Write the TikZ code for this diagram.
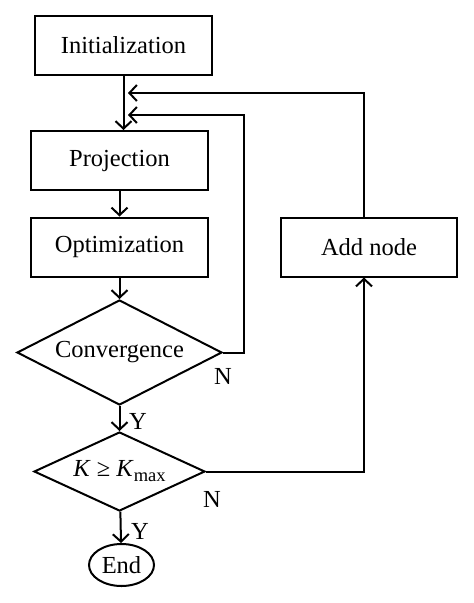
\documentclass[tikz,border=0pt]{standalone}
\usepackage{fontspec}
\setmainfont{Liberation Serif}
\usetikzlibrary{arrows.meta,shapes.geometric}
\begin{document}
\begin{tikzpicture}[x=1pt,y=-1pt,
  every node/.style={font=\fontsize{24.5}{28}\selectfont},
  box/.style={draw,line width=2pt,minimum width=177pt,minimum height=59pt,inner sep=0pt},
  dec/.style={draw,diamond,aspect=2,line width=2pt,inner sep=0pt},
  term/.style={draw,ellipse,line width=2pt,minimum width=65pt,minimum height=42pt,inner sep=0pt},
  conn/.style={line width=2pt,-{Straight Barb[length=7.5pt,width=16pt,line width=2pt]}},
  lbl/.style={inner sep=0pt}]
\useasboundingbox (0,0) rectangle (474,603);
\node[box] (init) at (123.5,45.5) {Initialization};
\node[box] (proj) at (119.5,160.5) {Projection};
\node[box] (opt) at (119.5,247) {Optimization};
\node[dec,minimum width=205pt,minimum height=105pt] (conv) at (119.5,352.5) {Convergence};
\node[dec,minimum width=171pt,minimum height=79pt] (kk) at (119.5,471.5)
  {\textit{K} ≥ \textit{K}\raisebox{-0.45ex}{\fontsize{18.5}{18}\selectfont max}};
\node[box,minimum width=176pt] (add) at (369,247) {Add node};
\node[term] (end) at (121.5,565) {End};
\coordinate (r1) at (364,93);
\coordinate (j1) at (128,93);
\coordinate (r2) at (244,115);
\coordinate (j2) at (128,115);
\draw[conn] (init.south) -- (init.south |- proj.north);
\draw[conn] (proj) -- (opt);
\draw[conn] (opt) -- (conv);
\draw[conn] (conv) -- (kk);
\draw[conn] (kk) -- (end);
\draw[conn] (conv.east) -| (r2) -- (j2);
\draw[conn] (r1 |- add.north) -- (r1) -- (j1);
\draw[conn] (kk.east) -| (r1 |- add.south);
\node[lbl] (n1) at ([xshift=0pt,yshift=-24pt]conv.east) {N};
\node[lbl] (n2) at ([xshift=6pt,yshift=-27.5pt]kk.east) {N};
\node[lbl] (y1) at (138,421) {Y};
\node[lbl] (y2) at (140,531) {Y};
\end{tikzpicture}
\end{document}
